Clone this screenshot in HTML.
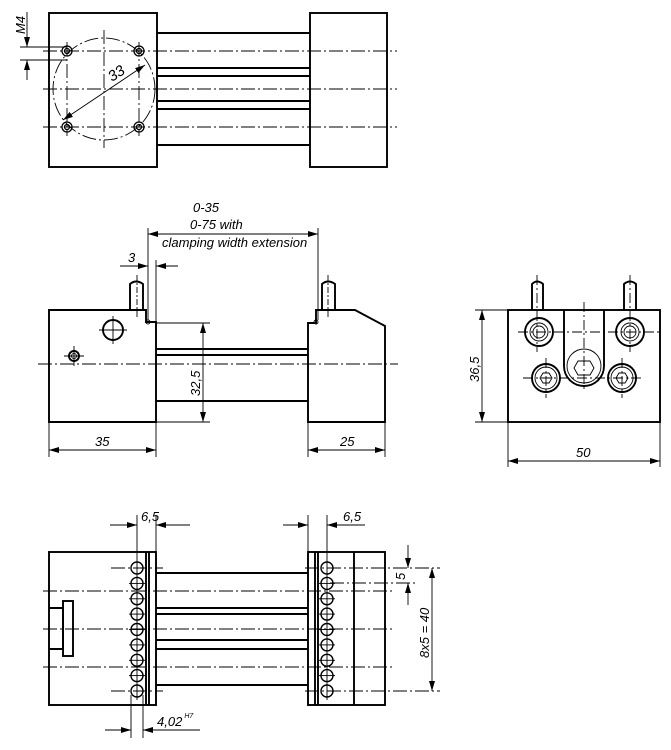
<!DOCTYPE html>
<html><head><meta charset="utf-8"><style>html,body{margin:0;padding:0;background:#fff}svg{display:block}text{font-family:"Liberation Sans",sans-serif;font-style:italic;font-size:13px;fill:#000}</style></head><body>
<svg width="671" height="750" viewBox="0 0 671 750" xmlns="http://www.w3.org/2000/svg">
<defs><marker id="a" viewBox="0 0 10 6" refX="10" refY="3" markerWidth="10" markerHeight="6" orient="auto-start-reverse" markerUnits="userSpaceOnUse"><path d="M0,0L10,3L0,6z" fill="#000"/></marker></defs>
<g fill="none" stroke="#000">
<!-- TOP VIEW -->
<g stroke-width="1.9">
<rect x="49" y="13" width="108" height="154"/>
<rect x="310" y="13" width="77" height="154"/>
<line x1="157" y1="33" x2="310" y2="33"/><line x1="157" y1="145" x2="310" y2="145"/>
<line x1="157" y1="68" x2="310" y2="68"/><line x1="157" y1="76" x2="310" y2="76"/>
<line x1="157" y1="101" x2="310" y2="101"/><line x1="157" y1="109" x2="310" y2="109"/>
</g>
<g stroke-width="0.9" stroke-dasharray="14,3,2,3">
<line x1="43" y1="51" x2="397" y2="51"/><line x1="43" y1="89" x2="397" y2="89"/><line x1="43" y1="127" x2="397" y2="127"/>
<line x1="104" y1="30" x2="104" y2="148"/><line x1="67" y1="42" x2="67" y2="136"/><line x1="139" y1="42" x2="139" y2="136"/>
<circle cx="104" cy="89" r="51"/>
</g>
<g stroke-width="1.3"><circle cx="67" cy="51" r="5"/><circle cx="139" cy="51" r="5"/><circle cx="67" cy="127" r="5"/><circle cx="139" cy="127" r="5"/>
<circle cx="67" cy="51" r="2.5"/><circle cx="139" cy="51" r="2.5"/><circle cx="67" cy="127" r="2.5"/><circle cx="139" cy="127" r="2.5"/></g>
<g stroke-width="0.9">
<line x1="63" y1="120" x2="145" y2="65" marker-start="url(#a)" marker-end="url(#a)"/>
<line x1="20" y1="47" x2="67" y2="47"/><line x1="20" y1="60" x2="67" y2="60"/>
<line x1="27" y1="12" x2="27" y2="47" marker-end="url(#a)"/><line x1="27" y1="80" x2="27" y2="60" marker-end="url(#a)"/>
</g>
<!-- MIDDLE VIEW -->
<g stroke-width="1.9">
<path d="M49,310H146V322H156V422H49Z"/>
<path d="M308,323H316V310H355L385,326V422H308Z"/>
<line x1="156" y1="349" x2="308" y2="349"/><line x1="156" y1="355" x2="308" y2="355"/><line x1="156" y1="401" x2="308" y2="401"/>
<path d="M130,310V284Q136,279 143,284V310"/><path d="M322,310V284Q328,279 335,284V310"/>
<circle cx="113" cy="330" r="10"/><circle cx="74" cy="356" r="5"/>
</g>
<g stroke-width="0.9">
<circle cx="74" cy="356" r="2.5"/><circle cx="148" cy="322" r="2"/><circle cx="316" cy="322" r="2"/>
<line x1="99" y1="330" x2="127" y2="330"/><line x1="113" y1="316" x2="113" y2="344"/>
<line x1="64" y1="356" x2="84" y2="356"/><line x1="74" y1="346" x2="74" y2="366"/>
<line x1="137" y1="275" x2="137" y2="317" stroke-dasharray="6,2,2,2"/><line x1="328" y1="275" x2="328" y2="317" stroke-dasharray="6,2,2,2"/>
<line x1="38" y1="364" x2="398" y2="364" stroke-dasharray="14,3,2,3"/>
<line x1="156" y1="260" x2="156" y2="322"/><line x1="148" y1="228" x2="148" y2="320"/><line x1="318" y1="228" x2="318" y2="320"/>
<line x1="148" y1="234" x2="318" y2="234" marker-start="url(#a)" marker-end="url(#a)"/>
<line x1="120" y1="266" x2="148" y2="266" marker-end="url(#a)"/><line x1="178" y1="266" x2="156" y2="266" marker-end="url(#a)"/>
<line x1="156" y1="323" x2="210" y2="323"/><line x1="156" y1="422" x2="210" y2="422"/>
<line x1="203" y1="323" x2="203" y2="422" marker-start="url(#a)" marker-end="url(#a)"/>
<line x1="49" y1="422" x2="49" y2="457"/><line x1="156" y1="422" x2="156" y2="457"/><line x1="308" y1="422" x2="308" y2="457"/><line x1="385" y1="422" x2="385" y2="457"/>
<line x1="49" y1="450" x2="156" y2="450" marker-start="url(#a)" marker-end="url(#a)"/>
<line x1="308" y1="450" x2="385" y2="450" marker-start="url(#a)" marker-end="url(#a)"/>
</g>
<!-- RIGHT VIEW -->
<g stroke-width="1.9">
<rect x="508" y="310" width="152" height="112"/>
<path d="M532,310V284Q537,279 543,284V310"/><path d="M624,310V284Q630,279 636,284V310"/>
<path d="M564,310V366A20,20 0 0 0 604,366V310"/>
<circle cx="539" cy="332" r="14"/><circle cx="630" cy="332" r="14"/>
<circle cx="546" cy="378" r="14"/><circle cx="622" cy="378" r="14"/>
</g>
<g stroke-width="0.9">
<circle cx="539" cy="332" r="6"/><circle cx="630" cy="332" r="6"/><circle cx="539" cy="332" r="9"/><circle cx="630" cy="332" r="9"/>
<circle cx="546" cy="378" r="11"/><circle cx="622" cy="378" r="11"/><circle cx="584" cy="366" r="17"/>
<path d="M574,368l4,-7h12l4,7l-4,7h-12z"/>
<path d="M540,378l3,-5h6l3,5l-3,5h-6z"/><path d="M616,378l3,-5h6l3,5l-3,5h-6z"/>
<g stroke-dasharray="10,3,2,3"><line x1="518" y1="332" x2="662" y2="332"/><line x1="523" y1="378" x2="643" y2="378"/>
<line x1="584" y1="302" x2="584" y2="392"/><line x1="537" y1="275" x2="537" y2="352"/><line x1="630" y1="275" x2="630" y2="352"/>
<line x1="546" y1="358" x2="546" y2="398"/><line x1="622" y1="358" x2="622" y2="398"/></g>
<line x1="475" y1="310" x2="508" y2="310"/><line x1="475" y1="422" x2="508" y2="422"/>
<line x1="482" y1="310" x2="482" y2="422" marker-start="url(#a)" marker-end="url(#a)"/>
<line x1="508" y1="422" x2="508" y2="467"/><line x1="660" y1="422" x2="660" y2="467"/>
<line x1="508" y1="461" x2="660" y2="461" marker-start="url(#a)" marker-end="url(#a)"/>
</g>
<!-- BOTTOM VIEW -->
<g stroke-width="1.9">
<rect x="49" y="552" width="107" height="153"/><rect x="308" y="552" width="77" height="153"/>
<line x1="146" y1="552" x2="146" y2="705"/><line x1="149" y1="552" x2="149" y2="705"/>
<line x1="315" y1="552" x2="315" y2="705"/><line x1="318" y1="552" x2="318" y2="705"/>
<line x1="354" y1="552" x2="354" y2="705"/>
<line x1="156" y1="573" x2="308" y2="573"/><line x1="156" y1="608" x2="308" y2="608"/><line x1="156" y1="614" x2="308" y2="614"/>
<line x1="156" y1="640" x2="308" y2="640"/><line x1="156" y1="649" x2="308" y2="649"/><line x1="156" y1="685" x2="308" y2="685"/>
<path d="M49,608H63V649H49"/><rect x="63" y="601" width="10" height="55"/>
</g>
<g stroke-width="1.4">
<circle cx="137" cy="568" r="6"/><circle cx="137" cy="583.4" r="6"/><circle cx="137" cy="598.8" r="6"/><circle cx="137" cy="614.1" r="6"/><circle cx="137" cy="629.5" r="6"/><circle cx="137" cy="644.9" r="6"/><circle cx="137" cy="660.3" r="6"/><circle cx="137" cy="675.6" r="6"/><circle cx="137" cy="691" r="6"/>
<circle cx="327" cy="568" r="6"/><circle cx="327" cy="583.4" r="6"/><circle cx="327" cy="598.8" r="6"/><circle cx="327" cy="614.1" r="6"/><circle cx="327" cy="629.5" r="6"/><circle cx="327" cy="644.9" r="6"/><circle cx="327" cy="660.3" r="6"/><circle cx="327" cy="675.6" r="6"/><circle cx="327" cy="691" r="6"/>
</g>
<g stroke-width="0.9">
<line x1="137" y1="515" x2="137" y2="700"/><line x1="327" y1="515" x2="327" y2="700"/>
<line x1="129" y1="583.4" x2="145" y2="583.4"/><line x1="129" y1="598.8" x2="145" y2="598.8"/><line x1="129" y1="614.1" x2="145" y2="614.1"/><line x1="129" y1="629.5" x2="145" y2="629.5"/><line x1="129" y1="644.9" x2="145" y2="644.9"/><line x1="129" y1="660.3" x2="145" y2="660.3"/><line x1="129" y1="675.6" x2="145" y2="675.6"/>
<line x1="319" y1="583.4" x2="335" y2="583.4"/><line x1="319" y1="598.8" x2="335" y2="598.8"/><line x1="319" y1="614.1" x2="335" y2="614.1"/><line x1="319" y1="629.5" x2="335" y2="629.5"/><line x1="319" y1="644.9" x2="335" y2="644.9"/><line x1="319" y1="660.3" x2="335" y2="660.3"/><line x1="319" y1="675.6" x2="335" y2="675.6"/>
<g stroke-dasharray="14,3,2,3">
<line x1="111" y1="568" x2="163" y2="568"/><line x1="111" y1="691" x2="163" y2="691"/>
<line x1="305" y1="568" x2="440" y2="568"/><line x1="305" y1="691" x2="440" y2="691"/><line x1="330" y1="583" x2="418" y2="583"/>
<line x1="43" y1="591" x2="395" y2="591"/><line x1="43" y1="629" x2="395" y2="629"/><line x1="43" y1="667" x2="395" y2="667"/>
</g>
<line x1="156" y1="515" x2="156" y2="552"/><line x1="308" y1="515" x2="308" y2="552"/>
<line x1="110" y1="525" x2="137" y2="525" marker-end="url(#a)"/><line x1="190" y1="525" x2="156" y2="525" marker-end="url(#a)"/>
<line x1="283" y1="525" x2="308" y2="525" marker-end="url(#a)"/><line x1="365" y1="525" x2="327" y2="525" marker-end="url(#a)"/>
<line x1="131" y1="695" x2="131" y2="738"/><line x1="143" y1="695" x2="143" y2="738"/>
<line x1="105" y1="730" x2="131" y2="730" marker-end="url(#a)"/><line x1="200" y1="730" x2="143" y2="730" marker-end="url(#a)"/>
<line x1="408" y1="545" x2="408" y2="568" marker-end="url(#a)"/><line x1="408" y1="605" x2="408" y2="583" marker-end="url(#a)"/>
<line x1="432" y1="568" x2="432" y2="691" marker-start="url(#a)" marker-end="url(#a)"/>
</g>
</g>
<!-- TEXT -->
<text transform="translate(25,34) rotate(-90)">M4</text>
<text transform="translate(112,82) rotate(-33)" style="font-size:15px">33</text>
<text x="193" y="212">0-35</text>
<text x="190" y="229">0-75 with</text>
<text x="162" y="247">clamping width extension</text>
<text x="128" y="262">3</text>
<text transform="translate(200,396) rotate(-90)">32,5</text>
<text x="95" y="446">35</text>
<text x="340" y="446">25</text>
<text transform="translate(479,382) rotate(-90)">36,5</text>
<text x="576" y="457">50</text>
<text x="141" y="521">6,5</text>
<text x="343" y="521">6,5</text>
<text transform="translate(405,580) rotate(-90)">5</text>
<text transform="translate(429,658) rotate(-90)">8x5 = 40</text>
<text x="157" y="726">4,02<tspan dx="2" dy="-8" style="font-size:7px">H7</tspan></text>
</svg>
</body></html>
